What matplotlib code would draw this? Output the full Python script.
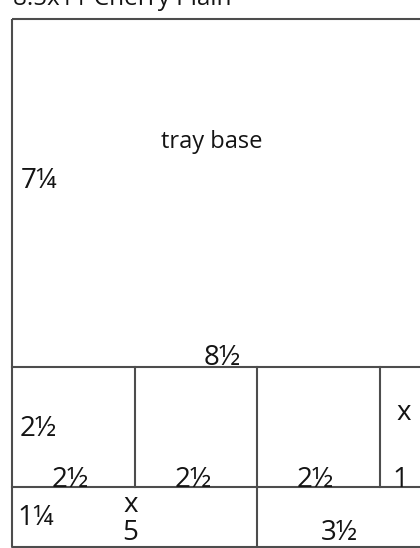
import numpy as np
import matplotlib
matplotlib.use("Agg")
import matplotlib.pyplot as plt

plt.rcParams['font.family'] = ['Open Sans', 'DejaVu Sans']

# medidas en pulgadas
titulo = "8.5x11 Cherry Plain"
ancho_hoja = 8.5
alto_hoja = 11
alto_filas = [7.25, 2.5, 1.25]
anchos_medio = [2.5, 2.5, 2.5, 1]
anchos_abajo = [5, 3.5]

etiqueta_base = "tray base"
etiqueta_alto_base = "7¼"
etiqueta_ancho_base = "8½"
etiqueta_alto_medio = "2½"
etiquetas_medio = ["2½", "2½", "2½", "1"]
etiqueta_alto_abajo = "1¼"
etiquetas_abajo = ["x\n5", "3½"]

color_linea = "#4d4d4d"
color_texto = "#141414"

fig = plt.figure(figsize=(4.2, 5.48), dpi=100)
ax = fig.add_axes([0, 0, 1, 1])
ax.set_xlim(-12 / 49, 408 / 49)
ax.set_ylim(529 / 48, -19 / 48)
ax.axis("off")

lw = 1.5
# contorno de la hoja
ax.plot([0, ancho_hoja, ancho_hoja, 0, 0], [0, 0, alto_hoja, alto_hoja, 0],
        color=color_linea, lw=lw, solid_capstyle="butt")

cortes_y = np.cumsum(alto_filas)
# cortes horizontales
for y in cortes_y[:-1]:
    ax.plot([0, ancho_hoja], [y, y], color=color_linea, lw=lw)

# cortes verticales fila del medio
y0, y1 = cortes_y[0], cortes_y[1]
bordes_medio = np.concatenate([[0], np.cumsum(anchos_medio)])
for x in bordes_medio[1:-1]:
    ax.plot([x, x], [y0, y1], color=color_linea, lw=lw)

# cortes verticales fila de abajo
bordes_abajo = np.concatenate([[0], np.cumsum(anchos_abajo)])
for x in bordes_abajo[1:-1]:
    ax.plot([x, x], [y1, alto_hoja - 0.05], color=color_linea, lw=lw)

fs = 20
ax.text(0.02, -0.29, titulo, fontsize=17.5, color=color_texto, va="baseline", ha="left")
ax.text(ancho_hoja / 2 - 0.17, 2.56, etiqueta_base, fontsize=17, color=color_texto,
        ha="center", va="center")
ax.text(0.18, 3.38, etiqueta_alto_base, fontsize=fs, color=color_texto, ha="left", va="center")
ax.text(ancho_hoja / 2 + 0.04, cortes_y[0] - 0.05, etiqueta_ancho_base, fontsize=fs,
        color=color_texto, ha="center", va="baseline")

ax.text(0.15, (y0 + y1) / 2 + 0.04, etiqueta_alto_medio, fontsize=fs, color=color_texto,
        ha="left", va="center")
for i, txt in enumerate(etiquetas_medio):
    xc = (bordes_medio[i] + bordes_medio[i + 1]) / 2
    if i == len(etiquetas_medio) - 1:
        ax.text(xc, y0 + 0.95, "x", fontsize=fs, color=color_texto, ha="center", va="center")
        xc -= 0.08
    else:
        xc -= 0.06
    ax.text(xc, y1 - 0.01, txt, fontsize=fs, color=color_texto, ha="center", va="baseline")

ax.text(0.12, (y1 + alto_hoja) / 2 + 0.02, etiqueta_alto_abajo, fontsize=fs, color=color_texto,
        ha="left", va="center")
for i, txt in enumerate(etiquetas_abajo):
    xc = (bordes_abajo[i] + bordes_abajo[i + 1]) / 2 - 0.08
    ax.text(xc, alto_hoja - 0.15, txt, fontsize=fs, color=color_texto, ha="center",
            va="baseline", linespacing=1.0)

fig.savefig("out.png", dpi=100)
